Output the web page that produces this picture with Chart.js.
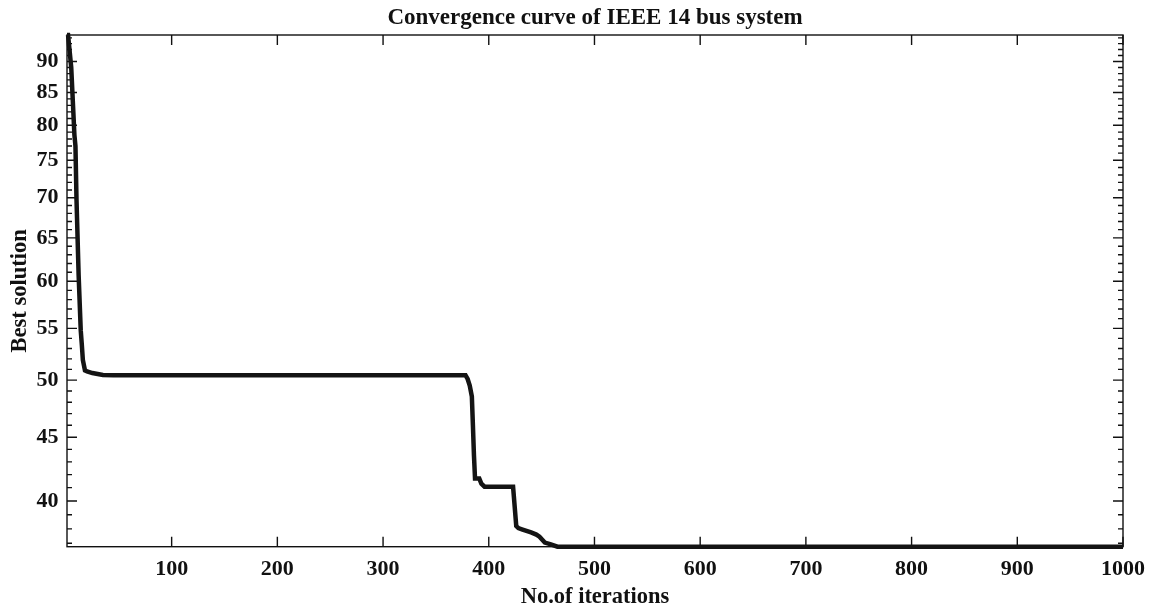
<!DOCTYPE html>
<html lang="en">
<head>
  <meta charset="UTF-8">
  <title>Convergence curve</title>
  <script src="https://cdn.jsdelivr.net/npm/chart.js"></script>
  <style>
    * { margin: 0; padding: 0; }
    body { background: #fff; width: 1149px; height: 608px; overflow: hidden; }
    canvas { display: block; }
  </style>
</head>
<body>
  <canvas id="curve" width="1149" height="608"></canvas>
  <script>
    // breakpoints of the best-solution curve
    const iterations = [1, 2, 5, 8, 9, 10, 12, 14, 15, 16, 18, 20, 25, 35, 45,
      378, 380, 382, 384, 385, 386, 387, 391, 393, 396, 423, 426, 428, 432, 440, 445, 448, 453, 458, 465, 1000];
    const bestValues = [94.5, 94.5, 89.0, 78.6, 77.0, 69.7, 60.7, 54.8, 53.4, 51.9, 50.9, 50.8, 50.65, 50.47, 50.45,
      50.45, 50.1, 49.5, 48.5, 46.0, 43.5, 41.7, 41.7, 41.3, 41.07, 41.07, 38.2, 38.05, 37.95, 37.75, 37.6, 37.45, 37.05, 36.95, 36.77, 36.77];

    const xTicks = [100, 200, 300, 400, 500, 600, 700, 800, 900, 1000];
    const yTicks = [40, 45, 50, 55, 60, 65, 70, 75, 80, 85, 90];
    const yMin = 36.77, yMax = 94.5;

    const yMinor = [];
    for (let v = 37; v <= 94; v++) yMinor.push(v);

    const serif = 'Liberation Serif, Times New Roman, serif';

    // MATLAB-like box with inward ticks on all four sides
    const frame = {
      id: 'frame',
      beforeDatasetsDraw(chart) {
        const { ctx, chartArea: a, scales: { x, y } } = chart;
        ctx.save();
        ctx.strokeStyle = '#111';
        ctx.lineWidth = 1.4;
        ctx.strokeRect(a.left, a.top, a.right - a.left, a.bottom - a.top);
        ctx.beginPath();
        xTicks.forEach(v => {
          const px = x.getPixelForValue(v);
          ctx.moveTo(px, a.bottom); ctx.lineTo(px, a.bottom - 10);
          ctx.moveTo(px, a.top); ctx.lineTo(px, a.top + 10);
        });
        yMinor.forEach(v => {
          const len = yTicks.includes(v) ? 10 : 5;
          const py = y.getPixelForValue(v);
          ctx.moveTo(a.left, py); ctx.lineTo(a.left + len, py);
          ctx.moveTo(a.right, py); ctx.lineTo(a.right - len, py);
        });
        ctx.stroke();
        ctx.restore();
      }
    };

    new Chart(document.getElementById('curve'), {
      type: 'line',
      data: {
        datasets: [{
          data: iterations.map((it, i) => ({ x: it, y: bestValues[i] })),
          borderColor: '#141414',
          borderWidth: 4.5,
          pointRadius: 0,
          tension: 0,
          clip: 6
        }]
      },
      options: {
        responsive: false,
        animation: false,
        layout: { padding: { left: 0, right: 26, top: 0, bottom: 0 } },
        plugins: {
          legend: { display: false },
          tooltip: { enabled: false },
          title: {
            display: true,
            text: 'Convergence curve of IEEE 14 bus system',
            fullSize: false,
            color: '#111',
            font: { family: serif, size: 23, weight: 'bold', lineHeight: 1.2 },
            padding: { top: 4, bottom: 3.4 }
          }
        },
        scales: {
          x: {
            type: 'linear',
            min: 1,
            max: 1000,
            grid: { display: false, drawTicks: false },
            border: { display: false },
            afterBuildTicks: s => { s.ticks = xTicks.map(v => ({ value: v })); },
            afterFit: s => { s.height = 61.3; s.paddingLeft = 0; s.paddingRight = 0; },
            ticks: {
              autoSkip: false,
              maxRotation: 0,
              padding: 9,
              color: '#111',
              font: { family: serif, size: 22, weight: 'bold' },
              callback: v => String(v)
            },
            title: {
              display: true,
              text: 'No.of iterations',
              color: '#111',
              font: { family: serif, size: 22.5, weight: 'bold', lineHeight: 1 },
              padding: { top: 0, bottom: 0 }
            }
          },
          y: {
            type: 'logarithmic',
            min: yMin,
            max: yMax,
            grid: { display: false, drawTicks: false },
            border: { display: false },
            afterBuildTicks: s => { s.ticks = yMinor.map(v => ({ value: v })); },
            afterFit: s => { s.width = 67; s.paddingTop = 0; s.paddingBottom = 0; },
            ticks: {
              autoSkip: false,
              padding: 8.5,
              color: '#111',
              font: { family: serif, size: 22, weight: 'bold' },
              callback: v => yTicks.includes(v) ? String(v) : ''
            },
            title: {
              display: true,
              text: 'Best solution',
              color: '#111',
              font: { family: serif, size: 22.5, weight: 'bold', lineHeight: 1 },
              padding: { top: 9, bottom: 0 }
            }
          }
        }
      },
      plugins: [frame]
    });
  </script>
</body>
</html>
